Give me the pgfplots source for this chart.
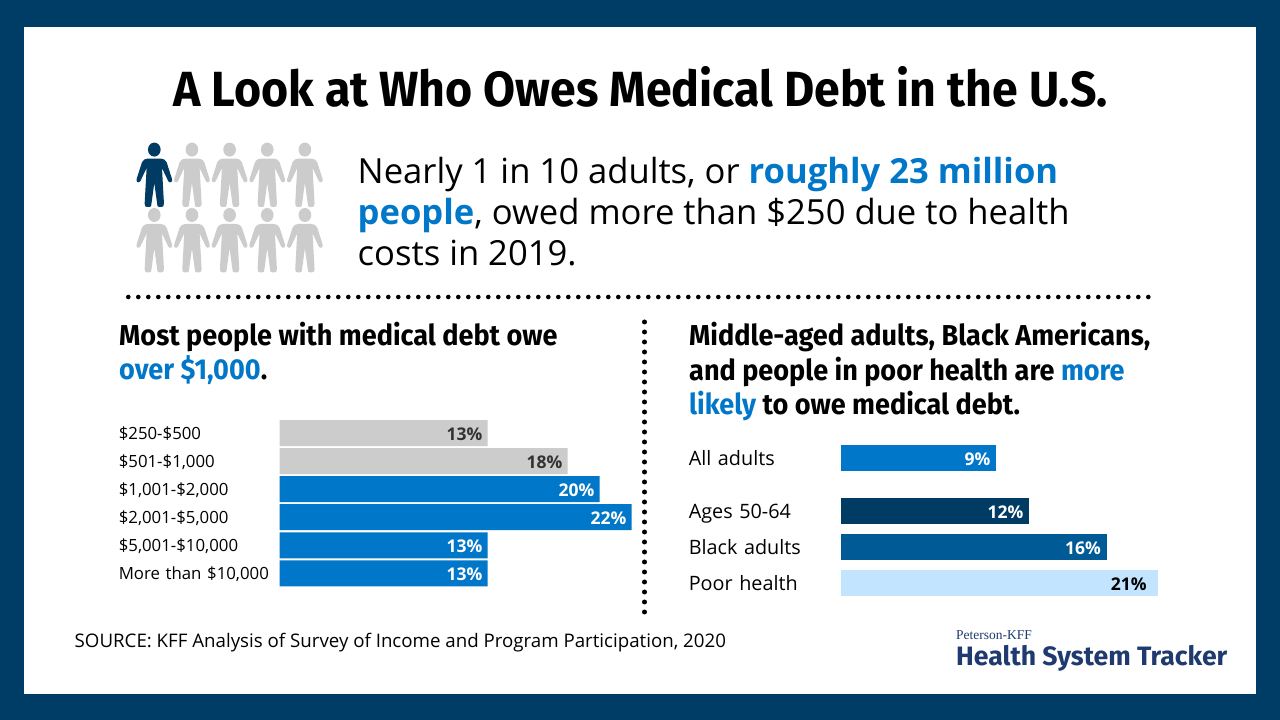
\documentclass[border=0pt]{standalone}
\usepackage{pgfplots}
\pgfplotsset{compat=1.18}
\usepackage{fontspec}
\setmainfont{Open Sans}
\newfontfamily\head{Fira Sans}[FakeStretch=0.94]
\newfontfamily\logo{Fira Sans}
\newfontfamily\logoserif{Liberation Serif}
\definecolor{frame}{HTML}{003D66}
\definecolor{kblue}{HTML}{0077C8}
\definecolor{kgray}{HTML}{CCCCCC}
\definecolor{kdark}{HTML}{003B63}
\definecolor{kmid}{HTML}{005A96}
\definecolor{klight}{HTML}{C2E4FF}
\definecolor{ktext}{HTML}{333333}
\definecolor{klogo}{HTML}{1F3A6E}
\def\M#1 #2;{\pgfpathmoveto{\pgfpoint{#1pt}{#2pt}}}
\def\LL#1 #2;{\pgfpathlineto{\pgfpoint{#1pt}{#2pt}}}
\def\CC#1 #2 #3 #4 #5 #6;{\pgfpathcurveto{\pgfpoint{#1pt}{#2pt}}{\pgfpoint{#3pt}{#4pt}}{\pgfpoint{#5pt}{#6pt}}}
\pgfdeclareplotmark{person}{%
  \pgftransformscale{0.3333}%
  \pgfpathellipse{\pgfpointorigin}{\pgfpoint{19pt}{0pt}}{\pgfpoint{0pt}{21pt}}%
  \M 0 -27;\LL 20 -27;\CC 28 -27 33 -31 37 -38;\LL 53 -88;\CC 56 -97 47 -102 42 -95;\LL 23 -55;
  \LL 29 -162;\CC 29 -170 26 -172 22 -172;\LL 15 -172;\CC 11 -172 9 -170 9 -166;\LL 0 -100;
  \LL -9 -166;\CC -9 -170 -11 -172 -15 -172;\LL -22 -172;\CC -26 -172 -29 -170 -29 -162;\LL -23 -55;
  \LL -42 -95;\CC -47 -102 -56 -97 -53 -88;\LL -37 -38;\CC -33 -31 -28 -27 -20 -27;\pgfpathclose
  \pgfusepathqfill}
\pgfplotsset{
  hbar/.style={
    scale only axis, clip=false, axis line style={draw=none},
    major tick length=0pt, xtick=\empty,
    xbar, bar shift=0pt, bar width=26pt,
    point meta=explicit symbolic,
    nodes near coords={\bfseries\pgfplotspointmeta\%},
    every node near coord/.append style={anchor=east,inner sep=0pt,yshift=-1pt,font=\fontsize{17.5}{19}\selectfont},
    yticklabel style={anchor=east,align=left,inner sep=0pt,text height=16pt,text depth=4pt,font=\fontsize{16.8}{18}\selectfont,text=black},
  },
  shift/.style={every node near coord/.append style={xshift=#1}},
  wht/.style={every node near coord/.append style={text=white}},
  drk/.style={every node near coord/.append style={text=ktext}},
  blk/.style={every node near coord/.append style={text=black}},
}
\begin{document}
\begin{tikzpicture}[x=1pt,y=1pt]
\useasboundingbox (0,0) rectangle (1280,720);
\fill[frame] (0,0) rectangle (1280,720);
\fill[white] (24,26) rectangle (1256,693);
% title
\node[anchor=base,inner sep=0pt] at (640.5,613) {\head\bfseries\fontsize{49.4}{54}\selectfont A Look at Who Owes Medical Debt in the U.S.};
% people
\begin{axis}[at={(154.3pt,505pt)},anchor=origin,scale only axis,width=150.6pt,height=65.4pt,
  xmin=0,xmax=4,ymin=0,ymax=1,hide axis,clip=false]
\addplot[only marks,mark=person,mark options={fill=kgray,draw=none}] coordinates {(1,1)(2,1)(3,1)(4,1)(0,0)(1,0)(2,0)(3,0)(4,0)};
\addplot[only marks,mark=person,mark options={fill=kdark,draw=none}] coordinates {(0,1)};
\end{axis}
% intro text
\def\isz{\fontsize{34.6}{40}\selectfont}
\node[anchor=base west,inner sep=0pt] at (357.5,536.5) {\isz Nearly 1 in 10 adults, or \textcolor{kblue}{\bfseries roughly 23 million}};
\node[anchor=base west,inner sep=0pt] at (357.5,495.5) {\isz\textcolor{kblue}{\bfseries people}, owed more than \$250 due to health};
\node[anchor=base west,inner sep=0pt] at (357.5,454.5) {\isz costs in 2019.};
% dotted rules
\draw[line width=4.6pt,line cap=round,dash pattern=on 0pt off 10pt] (128.3,423) -- (1152,423);
\draw[line width=5pt,line cap=round,dash pattern=on 0pt off 10pt] (644.5,398) -- (644.5,105);
% headings
\def\hsz{\head\bfseries\fontsize{28.8}{32}\selectfont}
\node[anchor=base west,inner sep=0pt] at (119,374) {\hsz Most people with medical debt owe};
\node[anchor=base west,inner sep=0pt] at (119,340) {\hsz\textcolor{kblue}{over \$1,000}.};
\node[anchor=base west,inner sep=0pt] at (689,374) {\hsz Middle-aged adults, Black Americans,};
\node[anchor=base west,inner sep=0pt] at (689,339.5) {\hsz and people in poor health are \textcolor{kblue}{more}};
\node[anchor=base west,inner sep=0pt] at (689,305) {\hsz\textcolor{kblue}{likely} to owe medical debt.};
% left chart
\begin{axis}[hbar,at={(279.5pt,301pt)},anchor=north west,width=352pt,height=168.4pt,
  xmin=0,xmax=22,ymin=-0.5,ymax=5.5,y dir=reverse,
  ytick={0,1,2,3,4,5},
  yticklabels={{\$250-\$500},{\$501-\$1,000},{\$1,001-\$2,000},{\$2,001-\$5,000},{\$5,001-\$10,000},{More than \$10,000}},
  yticklabel style={text width=160.5pt},
  every node near coord/.append style={xshift=-5pt}]
\addplot[fill=kgray,draw=none,drk] coordinates {(13,0)[13] (18,1)[18]};
\addplot[fill=kblue,draw=none,wht] coordinates {(20,2)[20] (22,3)[22] (13,4)[13] (13,5)[13]};
\end{axis}
% right chart: bar lengths as drawn (px), labels as printed
\begin{axis}[hbar,at={(841pt,118.7pt)},anchor=south west,width=316.5pt,height=162.2pt,
  xmin=0,xmax=316.5,ymin=-0.5,ymax=4,
  ytick={0,1,2,3.48},
  yticklabels={Poor health,Black adults,Ages 50-64,All adults},
  yticklabel style={text width=152pt,yshift=-1.2pt,font=\fontsize{19.8}{22}\selectfont}]
\addplot[fill=kblue,draw=none,wht,shift=-5pt] coordinates {(154.5,3.48)[9]};
\addplot[fill=kdark,draw=none,wht,shift=-5pt] coordinates {(187.5,2)[12]};
\addplot[fill=kmid,draw=none,wht,shift=-5.5pt] coordinates {(265.5,1)[16]};
\addplot[fill=klight,draw=none,blk,shift=-10.8pt] coordinates {(316.5,0)[21]};
\end{axis}
% source and logo
\node[anchor=base west,inner sep=0pt] at (74.5,72) {\fontsize{18.7}{20}\selectfont SOURCE: KFF Analysis of Survey of Income and Program Participation, 2020};
\node[anchor=base west,inner sep=0pt,text=klogo] at (956,80) {\logoserif\fontsize{13.5}{15}\selectfont Peterson-KFF};
\node[anchor=base west,inner sep=0pt,text=klogo] at (956,54) {\logo\bfseries\fontsize{26.6}{28}\selectfont Health System Tracker};
\end{tikzpicture}
\end{document}
